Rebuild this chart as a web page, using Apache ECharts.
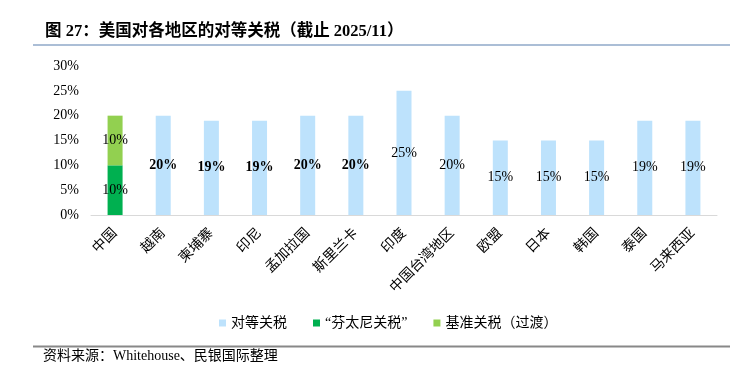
<!DOCTYPE html>
<html><head><meta charset="utf-8">
<script src="https://cdn.jsdelivr.net/npm/echarts@6/dist/echarts.min.js"></script>
<style>html,body{margin:0;padding:0;background:#fff}#c{width:750px;height:369px}</style>
</head><body><div id="c"></div>
<script>
const categories = ['中国','越南','柬埔寨','印尼','孟加拉国','斯里兰卡','印度','中国台湾地区','欧盟','日本','韩国','泰国','马来西亚'];
const reciprocal = [null,20,19,19,20,20,25,20,15,15,15,19,19];
const fentanyl = [10,null,null,null,null,null,null,null,null,null,null,null,null];
const baseline = [10,null,null,null,null,null,null,null,null,null,null,null,null];
const boldIdx = [1,2,3,4,5];
const yTicks = {min:0, max:30, interval:5};

const FONT = "'Liberation Serif','Noto Sans CJK SC',serif";
const chart = echarts.init(document.getElementById('c'));
const lbl = {show:true, position:'inside', color:'#000', fontFamily:FONT, fontSize:14, formatter: p => p.value==null?'':p.value+'%'};
chart.setOption({
  animation:false,
  textStyle:{fontFamily:FONT},
  grid:{left:91, right:33, top:66, bottom:154},
  xAxis:{type:'category', data:categories,
    axisLine:{lineStyle:{color:'#D9D9D9'}}, axisTick:{show:false},
    axisLabel:{rotate:45, color:'#000', fontSize:14, fontFamily:FONT, interval:0, margin:16}},
  yAxis:{type:'value', min:yTicks.min, max:yTicks.max, interval:yTicks.interval,
    splitLine:{show:false}, axisLine:{show:false}, axisTick:{show:false},
    axisLabel:{formatter:'{value}%', color:'#000', fontSize:14, fontFamily:FONT, margin:12}},
  legend:{bottom:34, left:214, itemWidth:7, itemHeight:7, itemGap:26, icon:'rect',
    textStyle:{fontSize:14, color:'#000', fontFamily:FONT},
    data:['对等关税','“芬太尼关税”','基准关税（过渡）']},
  series:[
    {name:'对等关税', type:'bar', stack:'t', barWidth:15, itemStyle:{color:'#BDE2FC'},
      data: reciprocal.map((v,i)=>({value:v, label:{fontWeight: boldIdx.includes(i)?'bold':'normal'}})), label:lbl},
    {name:'“芬太尼关税”', type:'bar', stack:'t', barWidth:15, itemStyle:{color:'#00B050'}, data:fentanyl, label:lbl},
    {name:'基准关税（过渡）', type:'bar', stack:'t', barWidth:15, itemStyle:{color:'#92D050'}, data:baseline, label:lbl}
  ],
  graphic:[
    {type:'text', left:45, top:23, style:{text:'图 27：美国对各地区的对等关税（截止 2025/11）', fontSize:16.5, fontWeight:'bold', fontFamily:FONT, fill:'#000'}},
    {type:'line', shape:{x1:33,y1:45,x2:730,y2:45}, style:{stroke:'#8FA8C8', lineWidth:1.5}},
    {type:'line', shape:{x1:33,y1:346.5,x2:730,y2:346.5}, style:{stroke:'#888', lineWidth:2}},
    {type:'text', left:43, top:349, style:{text:'资料来源：Whitehouse、民银国际整理', fontSize:14, fontFamily:FONT, fill:'#000'}}
  ]
});
</script></body></html>
